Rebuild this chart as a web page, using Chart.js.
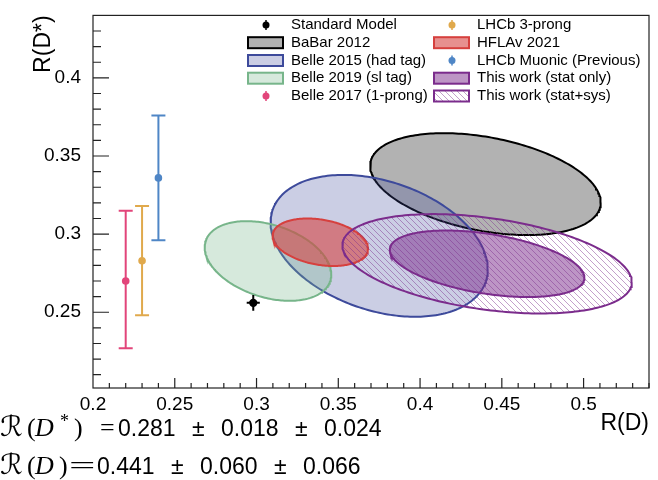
<!DOCTYPE html>
<html>
<head>
<meta charset="utf-8">
<script src="https://cdn.jsdelivr.net/npm/chart.js@4.4.1/dist/chart.umd.min.js"></script>
<style>
  html, body { margin: 0; padding: 0; background: #fff; }
  #wrap { position: relative; width: 658px; height: 480px; }
</style>
</head>
<body>
<div id="wrap"><canvas id="chart" width="658" height="480"></canvas></div>
<script>
// ---- values ----
const ellipseLabels = ["BaBar 2012", "Belle 2015 (had tag)", "Belle 2019 (sl tag)", "HFLAv 2021", "This work (stat only)", "This work (stat+sys)"];
const ellipseRD     = [0.440, 0.375, 0.307, 0.339, 0.441, 0.441];
const ellipseRDs    = [0.332, 0.2925, 0.2828, 0.2948, 0.281, 0.281];
const ellipseSigRD  = [0.0705, 0.0664, 0.0387, 0.0292, 0.0595, 0.0885];
const ellipseSigRDs = [0.0326, 0.0454, 0.0255, 0.0152, 0.0213, 0.0318];
const ellipseRho    = [-0.36, -0.33, -0.34, -0.27, -0.42, -0.37];

const pointLabels  = ["Standard Model", "Belle 2017 (1-prong)", "LHCb 3-prong", "LHCb Muonic (Previous)"];
const pointRD      = [0.298, 0.220, 0.230, 0.240];
const pointRDs     = [0.256, 0.270, 0.283, 0.336];
const pointErrUp   = [0.005, 0.045, 0.035, 0.040];
const pointErrDown = [0.005, 0.043, 0.035, 0.040];
const pointErrRD   = [0.004, 0, 0, 0];

const xRange = [0.2, 0.54];
const yRange = [0.2015, 0.44];

const resultNames  = ["D*", "D"];
const resultValues = ["0.281", "0.441"];
const resultStat   = ["0.018", "0.060"];
const resultSyst   = ["0.024", "0.066"];

// legend layout: [kind, index] per column
const legendLeft  = [["p", 0], ["e", 0], ["e", 1], ["e", 2], ["p", 1]];
const legendRight = [["p", 2], ["e", 3], ["p", 3], ["e", 4], ["e", 5]];

// ---- styles ----
const SANS = "'Liberation Sans', Arial, sans-serif";
const SERIF = "'Liberation Serif', 'DejaVu Serif', serif";
const SCRIPT = "'DejaVu Serif', 'DejaVu Sans', serif";
const ellipseLine = ["#000000", "#3d4a9b", "#77b58a", "#d6403e", "#7b2c8c", "#7b2c8c"];
const ellipseFill = ["rgba(0,0,0,0.3)", "rgba(61,74,155,0.27)", "rgba(119,181,138,0.3)",
                     "rgba(214,64,62,0.58)", "rgba(123,44,140,0.5)", null];
const pointColors = ["#000000", "#e2457a", "#e0a94c", "#4f86c6"];

function makeHatch() {
  const c = document.createElement("canvas");
  c.width = 6; c.height = 6;
  const g = c.getContext("2d");
  g.strokeStyle = "rgba(123,44,140,0.45)";
  g.lineWidth = 1;
  g.beginPath();
  g.moveTo(0, 0); g.lineTo(6, 6);
  g.moveTo(-1, 5); g.lineTo(1, 7);
  g.moveTo(5, -1); g.lineTo(7, 1);
  g.stroke();
  return g.createPattern(c, "repeat");
}
const hatch = makeHatch();
const fillOf = i => ellipseFill[i] || hatch;

// contour from centre, widths and correlation
function ellipsePoints(i) {
  const pts = [];
  const n = 240;
  const c = Math.sqrt(1 - ellipseRho[i] ** 2);
  for (let k = 0; k <= n; k++) {
    const t = (2 * Math.PI * k) / n;
    pts.push({
      x: ellipseRD[i] + ellipseSigRD[i] * Math.cos(t),
      y: ellipseRDs[i] + ellipseSigRDs[i] * (ellipseRho[i] * Math.cos(t) + c * Math.sin(t)),
    });
  }
  return pts;
}

const datasets = [];
// points on top
pointLabels.forEach((label, i) => {
  datasets.push({
    label,
    data: [{ x: pointRD[i], y: pointRDs[i] }],
    pointRadius: i === 0 ? 4.2 : 3.8,
    pointBackgroundColor: pointColors[i],
    pointBorderWidth: 0,
    showLine: false,
  });
  datasets.push({
    data: [{ x: pointRD[i], y: pointRDs[i] - pointErrDown[i] }, { x: pointRD[i], y: pointRDs[i] + pointErrUp[i] }],
    showLine: true,
    borderColor: pointColors[i],
    borderWidth: 2,
    pointStyle: "line",
    pointRadius: i === 0 ? 0 : 7,
    pointBorderColor: pointColors[i],
    pointBorderWidth: 2,
  });
  if (pointErrRD[i] > 0) {
    datasets.push({
      data: [{ x: pointRD[i] - pointErrRD[i], y: pointRDs[i] }, { x: pointRD[i] + pointErrRD[i], y: pointRDs[i] }],
      showLine: true,
      borderColor: pointColors[i],
      borderWidth: 2,
      pointRadius: 0,
    });
  }
});
// ellipses, top-most first
[4, 5, 3, 2, 1, 0].forEach(i => {
  datasets.push({
    label: ellipseLabels[i],
    data: ellipsePoints(i),
    showLine: true,
    fill: "shape",
    tension: 0,
    borderColor: ellipseLine[i],
    borderWidth: 2,
    backgroundColor: fillOf(i),
    pointRadius: 0,
  });
});

function drawLegend(ctx) {
  const rows = [25, 42.7, 60.5, 78.2, 96];
  const cols = [{ items: legendLeft, box: 248, text: 291 }, { items: legendRight, box: 434, text: 477 }];
  ctx.save();
  ctx.font = "15px " + SANS;
  ctx.textBaseline = "middle";
  cols.forEach(col => {
    col.items.forEach(([kind, i], r) => {
      const cy = rows[r];
      if (kind === "e") {
        ctx.fillStyle = "#fff";
        ctx.fillRect(col.box, cy - 5.5, 35, 11);
        ctx.fillStyle = fillOf(i);
        ctx.fillRect(col.box, cy - 5.5, 35, 11);
        ctx.strokeStyle = ellipseLine[i];
        ctx.lineWidth = 2;
        ctx.strokeRect(col.box, cy - 5.5, 35, 11);
      } else {
        const cx = col.box + 18;
        ctx.strokeStyle = pointColors[i];
        ctx.lineWidth = 1.5;
        ctx.beginPath();
        ctx.moveTo(cx, cy - 5); ctx.lineTo(cx, cy + 5);
        ctx.stroke();
        ctx.fillStyle = pointColors[i];
        ctx.beginPath();
        ctx.arc(cx, cy, 3.5, 0, Math.PI * 2);
        ctx.fill();
      }
      ctx.fillStyle = "#000";
      ctx.fillText(kind === "e" ? ellipseLabels[i] : pointLabels[i], col.text, cy);
    });
  });
  ctx.restore();
}

function drawResults(ctx) {
  const base = [436, 474];
  const numStart = [118, 97];
  ctx.save();
  ctx.fillStyle = "#000";
  ctx.textBaseline = "alphabetic";
  base.forEach((y, k) => {
    ctx.font = "28px " + SCRIPT;
    ctx.fillText("\u211B", 0, y);
    ctx.font = "26px " + SERIF;
    ctx.fillText("(", 27, y);
    ctx.font = "italic 26px " + SERIF;
    ctx.fillText("D", 35, y);
    ctx.font = "26px " + SERIF;
    if (resultNames[k] === "D*") {
      ctx.font = "18px " + SERIF;
      ctx.fillText("*", 60, y - 9);
      ctx.font = "26px " + SERIF;
      ctx.fillText(")", 74, y);
      ctx.fillText("=", 100, y);
    } else {
      ctx.fillText(")", 59, y);
      ctx.save();
      ctx.translate(69, y);
      ctx.scale(1.8, 1);
      ctx.fillText("=", 0, 0);
      ctx.restore();
    }
    ctx.font = "23px " + SANS;
    const parts = [resultValues[k], "\u00B1", resultStat[k], "\u00B1", resultSyst[k]];
    let x = numStart[k];
    parts.forEach((p, j) => {
      ctx.fillText(p, x, y);
      x += ctx.measureText(p).width + (j < parts.length - 1 ? 16.4 : 0);
    });
  });
  ctx.restore();
}

const framePlugin = {
  id: "frame",
  afterDraw(chart) {
    const { ctx, chartArea: a, scales: { x, y } } = chart;
    ctx.save();
    ctx.strokeStyle = "#222";
    ctx.lineWidth = 1.2;
    ctx.beginPath();
    for (let k = Math.ceil(xRange[0] * 100); k <= Math.floor(xRange[1] * 100 + 1e-9); k++) {
      const px = x.getPixelForValue(k / 100);
      if (px <= a.left + 1) continue;
      const len = k % 5 === 0 ? 10 : 5;
      ctx.moveTo(px, a.bottom); ctx.lineTo(px, a.bottom - len);
    }
    for (let k = Math.ceil(yRange[0] * 100); k <= Math.floor(yRange[1] * 100 + 1e-9); k++) {
      const py = y.getPixelForValue(k / 100);
      if (py <= a.top + 1) continue;
      const len = k % 5 === 0 ? 16 : 8;
      ctx.moveTo(a.left, py); ctx.lineTo(a.left + len, py);
    }
    ctx.stroke();
    ctx.strokeRect(a.left, a.top, a.right - a.left, a.bottom - a.top);
    ctx.restore();
    drawLegend(ctx);
    drawResults(ctx);
  },
};

const fmt = v => String(+v.toFixed(2));

new Chart(document.getElementById("chart"), {
  type: "scatter",
  data: { datasets },
  options: {
    responsive: false,
    animation: false,
    devicePixelRatio: 1,
    layout: { padding: { top: 6, right: 2, left: 0, bottom: 0 } },
    plugins: { legend: { display: false }, tooltip: { enabled: false } },
    scales: {
      x: {
        type: "linear",
        min: xRange[0], max: xRange[1],
        afterFit: s => { s.height = 92; },
        grid: { display: false },
        border: { display: false },
        ticks: { stepSize: 0.05, includeBounds: false, autoSkip: false, maxRotation: 0,
                 padding: -3, color: "#000", font: { family: SANS, size: 19 }, callback: fmt },
        title: { display: true, text: "R(D)", align: "end", color: "#000",
                 font: { family: SANS, size: 23 }, padding: { top: 0, bottom: 43 } },
      },
      y: {
        type: "linear",
        min: yRange[0], max: yRange[1],
        afterFit: s => { s.width = 93; },
        grid: { display: false },
        border: { display: false },
        ticks: { stepSize: 0.05, includeBounds: false, autoSkip: false,
                 padding: 4, color: "#000", font: { family: SANS, size: 19 }, callback: fmt },
        title: { display: true, text: "R(D*)", align: "end", color: "#000",
                 font: { family: SANS, size: 23 }, padding: { top: 30, bottom: 0 } },
      },
    },
  },
  plugins: [framePlugin],
});
</script>
</body>
</html>
